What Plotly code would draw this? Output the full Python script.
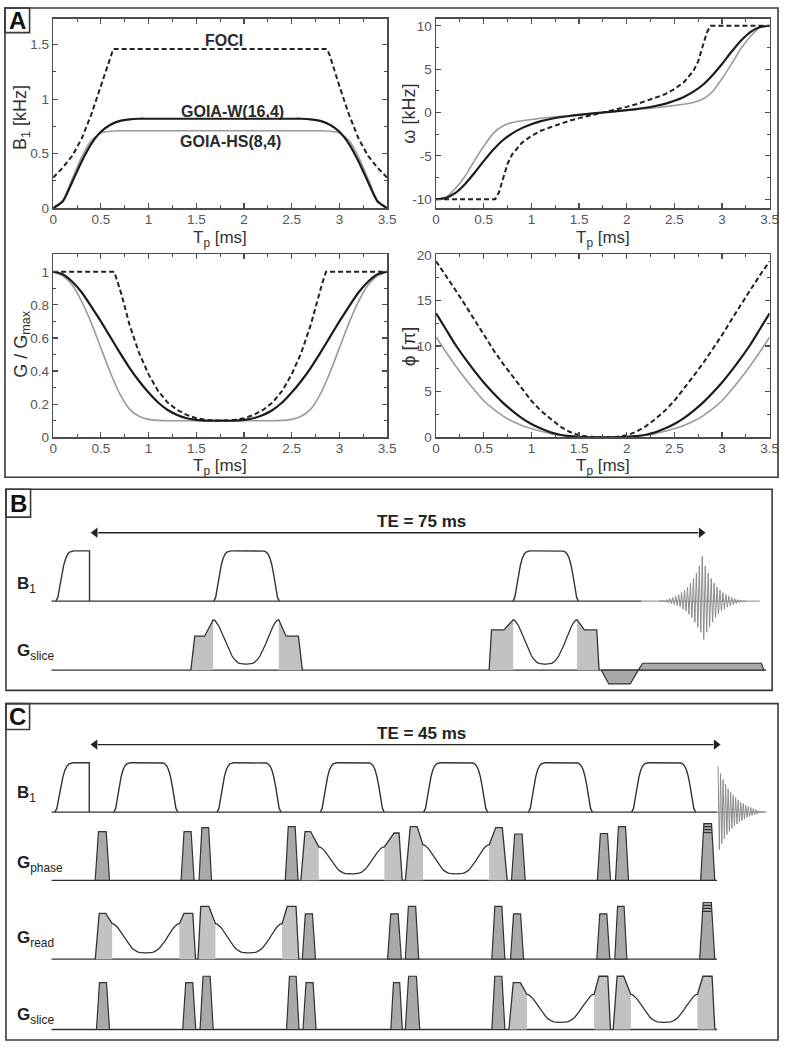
import plotly.graph_objects as go

FONT = "Liberation Sans, Arial, Helvetica, sans-serif"
W, H = 789, 1050

# ---------------- Panel A data ----------------
tp = [0.0, 0.1, 0.2, 0.3, 0.4, 0.5, 0.6, 0.7, 0.8, 0.9, 1.0, 1.1, 1.2, 1.3, 1.4, 1.5, 1.6, 1.7,
      1.8, 1.9, 2.0, 2.1, 2.2, 2.3, 2.4, 2.5, 2.6, 2.7, 2.8, 2.9, 3.0, 3.1, 3.2, 3.3, 3.4, 3.5]

# B1 [kHz]
b1_goia_w = [0.00, 0.06, 0.24, 0.43, 0.59, 0.70, 0.765, 0.80, 0.815, 0.82,
             0.82, 0.82, 0.82, 0.82, 0.82, 0.82, 0.82, 0.82, 0.82, 0.82, 0.82, 0.82, 0.82, 0.82, 0.82, 0.82,
             0.82, 0.815, 0.80, 0.765, 0.70, 0.59, 0.43, 0.24, 0.06, 0.00]
b1_goia_hs = [0.00, 0.07, 0.27, 0.47, 0.62, 0.69, 0.705,
              0.71, 0.71, 0.71, 0.71, 0.71, 0.71, 0.71, 0.71, 0.71, 0.71, 0.71,
              0.71, 0.71, 0.71, 0.71, 0.71, 0.71, 0.71, 0.71, 0.71, 0.71, 0.71,
              0.705, 0.69, 0.62, 0.47, 0.27, 0.07, 0.00]
t_foci_b1 = [0.0, 0.1, 0.2, 0.3, 0.4, 0.5, 0.6, 0.63, 2.87, 2.9, 3.0, 3.1, 3.2, 3.3, 3.4, 3.5]
b1_foci = [0.28, 0.37, 0.48, 0.64, 0.86, 1.12, 1.40, 1.46, 1.46, 1.40, 1.12, 0.86, 0.64, 0.48, 0.37, 0.28]

# omega [kHz]
w_goia_w = [-10, -9.85, -9.3, -8.3, -7.0, -5.6, -4.3, -3.2, -2.4, -1.8, -1.35, -1.0, -0.75, -0.55, -0.4, -0.27, -0.15, -0.05,
            0.05, 0.15, 0.27, 0.4, 0.55, 0.75, 1.0, 1.35, 1.8, 2.4, 3.2, 4.3, 5.6, 7.0, 8.3, 9.3, 9.85, 10]
w_goia_hs = [-10, -9.8, -8.8, -7.4, -5.6, -3.9, -2.4, -1.55, -1.15, -0.95, -0.8, -0.67, -0.55, -0.45, -0.35, -0.25, -0.15, -0.05,
             0.05, 0.15, 0.25, 0.35, 0.45, 0.55, 0.67, 0.8, 0.95, 1.15, 1.55, 2.4, 3.9, 5.6, 7.4, 8.8, 9.8, 10]
t_foci_w = [0, 0.62, 0.66, 0.7, 0.75, 0.8, 0.9, 1.0, 1.1, 1.2, 1.3, 1.4, 1.5, 1.6, 1.75,
            1.9, 2.0, 2.1, 2.2, 2.3, 2.4, 2.5, 2.6, 2.7, 2.75, 2.8, 2.84, 2.88, 3.5]
w_foci = [-10, -10, -9.2, -7.6, -5.9, -4.8, -3.5, -2.7, -2.1, -1.7, -1.3, -0.95, -0.65, -0.4, 0,
          0.4, 0.65, 0.95, 1.3, 1.7, 2.1, 2.7, 3.5, 4.8, 5.9, 7.6, 9.2, 10, 10]

# G / Gmax
g_goia_w = [1.0, 0.985, 0.94, 0.875, 0.79, 0.70, 0.605, 0.51, 0.42, 0.34, 0.27, 0.21, 0.165, 0.135, 0.115, 0.105, 0.10, 0.10,
            0.10, 0.10, 0.105, 0.115, 0.135, 0.165, 0.21, 0.27, 0.34, 0.42, 0.51, 0.605, 0.70, 0.79, 0.875, 0.94, 0.985, 1.0]
g_goia_hs = [1.0, 0.975, 0.92, 0.82, 0.69, 0.54, 0.39, 0.26, 0.17, 0.127, 0.108, 0.102, 0.10, 0.10, 0.10, 0.10, 0.10, 0.10,
             0.10, 0.10, 0.10, 0.10, 0.10, 0.10, 0.102, 0.108, 0.127, 0.17, 0.26, 0.39, 0.54, 0.69, 0.82, 0.92, 0.975, 1.0]
t_foci_g = [0, 0.64, 0.68, 0.72, 0.8, 0.9, 1.0, 1.1, 1.2, 1.3, 1.4, 1.5, 1.6, 1.75,
            1.9, 2.0, 2.1, 2.2, 2.3, 2.4, 2.5, 2.6, 2.7, 2.78, 2.82, 2.86, 3.5]
g_foci = [1, 1, 0.93, 0.855, 0.68, 0.51, 0.38, 0.28, 0.21, 0.165, 0.135, 0.115, 0.105, 0.10,
          0.105, 0.115, 0.135, 0.165, 0.21, 0.28, 0.38, 0.51, 0.68, 0.855, 0.93, 1, 1]

# phi [pi]
phi_goia_w = [13.6, 11.9, 10.2, 8.7, 7.3, 6.0, 4.85, 3.8, 2.9, 2.1, 1.45, 0.95, 0.55, 0.28, 0.12, 0.04, 0.0, 0.0,
              0.0, 0.0, 0.04, 0.12, 0.28, 0.55, 0.95, 1.45, 2.1, 2.9, 3.8, 4.85, 6.0, 7.3, 8.7, 10.2, 11.9, 13.6]
phi_goia_hs = [11.0, 9.4, 7.9, 6.5, 5.2, 4.0, 3.1, 2.35, 1.75, 1.3, 0.95, 0.65, 0.4, 0.22, 0.1, 0.03, 0.0, 0.0,
               0.0, 0.0, 0.03, 0.1, 0.22, 0.4, 0.65, 0.95, 1.3, 1.75, 2.35, 3.1, 4.0, 5.2, 6.5, 7.9, 9.4, 11.0]
phi_foci = [19.3, 17.8, 16.2, 14.6, 12.9, 11.2, 9.6, 8.1, 6.7, 5.3, 4.0, 2.9, 2.0, 1.2, 0.6, 0.22, 0.05, 0.0,
            0.0, 0.05, 0.22, 0.6, 1.2, 2.0, 2.9, 4.0, 5.3, 6.7, 8.1, 9.6, 11.2, 12.9, 14.6, 16.2, 17.8, 19.3]

x_ticks = [0, 0.5, 1, 1.5, 2, 2.5, 3, 3.5]
w_tickvals = [-10, -5, 0, 5, 10]
w_ticktext = ["-10", "-5", "0", "5", "10"]

# ---------------- Panel B data (time in ms, amplitude in pulse heights) ----------------
b_te = 75
b_rows = [0.0, -1.373]                 # B1, G_slice baselines
b_exc = [-4.27, -0.16]                 # excitation start / end
b_ref_centers = [19.0, 55.5]
b_ref_dur = 8.0
b_goia_centers = [18.93, 55.43]
b_goia_durs = [8.0, 7.8]
b_goia_top = 1.0
b_goia_low = 0.12
b_crush_left = [(0.48, 1.20, 1.05, 0.675), (0.30, 1.51, 1.13, 0.80)]   # ramp, flat, slope, level
b_crush_right = [(0.89, 1.51, 0.48, 0.675), (0.88, 1.52, 0.28, 0.80)]  # slope, flat, ramp, level
b_neg_t = [62.28, 63.2, 65.81, 66.8]
b_neg_a = [0, -0.275, -0.275, 0]
b_acq_t = [66.8, 67.32, 81.8, 82.13]
b_acq_a = [0, 0.137, 0.137, 0]
b_line_ends = [-4.8, 67.2, 81.6, 82.4]   # baseline start, B1 dark end, B1 grey end, G end
b_echo_center = 74.6
b_echo_step = 0.18
b_echo = [0.01, -0.01, 0.02, -0.02, 0.03, -0.03, 0.05, -0.05, 0.07, -0.07, 0.10, -0.09, 0.13, -0.12,
          0.17, -0.16, 0.22, -0.20, 0.28, -0.26, 0.36, -0.33, 0.45, -0.42, 0.56, -0.52, 0.70, -0.62,
          0.89, -0.76,
          0.70, -0.62, 0.56, -0.52, 0.45, -0.42, 0.36, -0.33, 0.28, -0.26, 0.22, -0.20, 0.17, -0.16,
          0.13, -0.12, 0.10, -0.09, 0.07, -0.07, 0.05, -0.05, 0.03, -0.03, 0.02, -0.02, 0.01, -0.01]

# ---------------- Panel C data ----------------
c_te = 45
c_rows = [0.0, -1.386, -2.986, -4.412]   # B1, G_phase, G_read, G_slice
c_exc = [-2.573, -0.113]
c_ref_centers = [3.93, 11.31, 18.69, 26.08, 33.57, 40.95]
c_ref_dur = 4.57
c_blocks_phase = [(0.309, 1.027, 0.99), (6.448, 0.935, 0.99), (7.734, 0.893, 1.07), (13.901, 0.914, 1.09),
                  (30.073, 0.984, 0.94), (36.211, 0.942, 0.95), (37.505, 0.935, 1.09)]
c_blocks_read = [(15.117, 0.942, 0.92), (21.213, 0.984, 0.92), (22.479, 0.963, 1.07), (28.666, 0.935, 1.07),
                 (30.002, 0.935, 0.92), (36.169, 0.935, 0.92), (37.456, 0.865, 1.07)]
c_blocks_slice = [(0.401, 0.935, 0.95), (6.567, 0.935, 0.95), (7.805, 0.942, 1.08), (13.992, 0.893, 1.08),
                  (15.167, 0.935, 0.95), (21.446, 0.823, 0.95), (22.479, 1.034, 1.08), (28.666, 0.935, 1.08)]
c_pe_blocks = [(1, 43.594, 1.013, 1.15), (2, 43.524, 1.083, 1.15)]
c_pe_stripes = [1.09, 1.03, 0.97]
# row, centre, duration, top, low, left (ramp, flat, slope, level), right (slope, flat, ramp, level)
c_goia = [
    (1, 18.637, 4.69, 0.68, 0.13, (0.30, 0.40, 0.58, 0.99), (0.70, 0.35, 0.23, 0.96)),
    (1, 26.111, 4.73, 0.72, 0.13, (0.35, 0.49, 0.42, 1.09), (0.47, 0.47, 0.35, 1.07)),
    (2, 3.927, 4.80, 0.72, 0.13, (0.28, 0.46, 0.47, 0.93), (0.33, 0.63, 0.20, 0.93)),
    (2, 11.289, 4.76, 0.72, 0.13, (0.20, 0.58, 0.47, 1.07), (0.37, 0.63, 0.20, 1.07)),
    (3, 33.578, 4.80, 0.71, 0.146, (0.31, 0.51, 0.47, 0.95), (0.35, 0.63, 0.19, 1.08)),
    (3, 40.982, 4.76, 0.71, 0.146, (0.28, 0.47, 0.51, 1.08), (0.40, 0.65, 0.20, 1.08)),
]
c_line_ends = [-2.81, 44.77, 48.3]
c_fid_start = 44.84
c_fid_step = 0.09
c_fid = [0.93, -0.76, 0.78, -0.64, 0.66, -0.54, 0.56, -0.46, 0.47, -0.39, 0.40, -0.33, 0.34, -0.28,
         0.29, -0.24, 0.24, -0.20, 0.20, -0.17, 0.17, -0.14, 0.14, -0.11, 0.11, -0.09, 0.09, -0.07,
         0.07, -0.05, 0.05, -0.04, 0.03, -0.02, 0.02, -0.01, 0.01, 0.0]

# ---------------- helpers ----------------
fig = go.Figure()
DARK = "#333333"
GREY_SIG = "#8c8c8c"


def dom_x(a, b):
    return [a / W, b / W]


def dom_y(top, bottom):
    return [1 - bottom / H, 1 - top / H]


def add(x, y, xa, ya, **kw):
    kw.setdefault("mode", "lines")
    fig.add_trace(go.Scatter(x=x, y=y, xaxis=xa, yaxis=ya,
                             hoverinfo="skip", showlegend=False, **kw))


def baseline(xa, ya, x0, x1, y, color=DARK):
    add([x0, x1], [y, y], xa, ya, line=dict(color=color, width=1.3))


B1MAX = max(b1_goia_w)


def rf_pulse(xa, ya, c, d, base):
    xs = [c - d / 2 + t / 3.5 * d for t in tp]
    ys = [base + v / B1MAX for v in b1_goia_w]
    add(xs, ys, xa, ya, line=dict(color=DARK, width=1.4))


def exc_pulse(xa, ya, s, e, base):
    idx = [i for i, t in enumerate(tp) if t <= 1.7 + 1e-9]
    xs = [s + tp[i] / 1.7 * (e - s) for i in idx] + [e]
    ys = [base + b1_goia_w[i] / B1MAX for i in idx] + [base]
    add(xs, ys, xa, ya, line=dict(color=DARK, width=1.4))


def trap(xa, ya, s, w, h, base, fill="#a9a9a9"):
    xs = [s, s + 0.23 * w, s + 0.77 * w, s + w, s]
    ys = [base, base + h, base + h, base, base]
    add(xs, ys, xa, ya, fill="toself", fillcolor=fill, line=dict(color=DARK, width=1.2))


def goia_lobe(xa, ya, c, d, top, low, left, right, base):
    r, f, s, L = left
    s2, f2, r2, L2 = right
    xb, xe = c - d / 2, c + d / 2
    x0 = xb - s - f - r
    xend = xe + s2 + f2 + r2
    gf = "#c2c2c2"
    add([x0, x0 + r, x0 + r + f, xb, xb, x0],
        [base, base + L, base + L, base + top, base, base], xa, ya,
        fill="toself", fillcolor=gf, line=dict(width=0, color=gf))
    add([xe, xe, xe + s2, xe + s2 + f2, xend, xe],
        [base, base + top, base + L2, base + L2, base, base], xa, ya,
        fill="toself", fillcolor=gf, line=dict(width=0, color=gf))
    wx = [xb + t / 3.5 * d for t in tp]
    wy = [base + low + (top - low) * (g - 0.1) / 0.9 for g in g_goia_w]
    add([x0, x0 + r, x0 + r + f] + wx + [xe + s2, xe + s2 + f2, xend],
        [base, base + L, base + L] + wy + [base + L2, base + L2, base], xa, ya,
        line=dict(color=DARK, width=1.3))


def te_arrow(xa, ya, te, y, head):
    add([head, te - head], [y, y], xa, ya, line=dict(color="#222222", width=1.4))
    add([head * 0.6, te - head * 0.6], [y, y], xa, ya, mode="markers",
        marker=dict(symbol=["triangle-left", "triangle-right"], size=9, color="#222222",
                    line=dict(width=0)))


# ---------------- Panel A traces ----------------
panels = [
    ("x", "y", t_foci_b1, b1_foci, b1_goia_w, b1_goia_hs),
    ("x2", "y2", t_foci_w, w_foci, w_goia_w, w_goia_hs),
    ("x3", "y3", t_foci_g, g_foci, g_goia_w, g_goia_hs),
    ("x4", "y4", tp, phi_foci, phi_goia_w, phi_goia_hs),
]
for xa, ya, tf, vf, vw, vh in panels:
    add(tp, vh, xa, ya, line=dict(color="#9a9a9a", width=1.6, shape="spline", smoothing=0.6))
    add(tf, vf, xa, ya, line=dict(color="#222222", width=2, dash="5px,3px"))
    add(tp, vw, xa, ya, line=dict(color="#1c1c1c", width=2.2, shape="spline", smoothing=0.6))

# ---------------- Panel B traces ----------------
XB, YB = "x5", "y5"
baseline(XB, YB, b_line_ends[0], b_line_ends[1], b_rows[0])
baseline(XB, YB, b_line_ends[1], b_line_ends[2], b_rows[0], color="#9a9a9a")
baseline(XB, YB, b_line_ends[0], b_line_ends[3], b_rows[1])
exc_pulse(XB, YB, b_exc[0], b_exc[1], b_rows[0])
for c in b_ref_centers:
    rf_pulse(XB, YB, c, b_ref_dur, b_rows[0])
for c, d, lft, rgt in zip(b_goia_centers, b_goia_durs, b_crush_left, b_crush_right):
    goia_lobe(XB, YB, c, d, b_goia_top, b_goia_low, lft, rgt, b_rows[1])
add(b_neg_t + [b_neg_t[0]], [b_rows[1] + a for a in b_neg_a] + [b_rows[1]], XB, YB,
    fill="toself", fillcolor="#a9a9a9", line=dict(color=DARK, width=1.2))
add(b_acq_t + [b_acq_t[0]], [b_rows[1] + a for a in b_acq_a] + [b_rows[1]], XB, YB,
    fill="toself", fillcolor="#a9a9a9", line=dict(color=DARK, width=1.2))
n_half = len(b_echo) // 2
ex = [b_echo_center + (i - n_half + 1) * b_echo_step for i in range(len(b_echo))]
add([ex[0] - b_echo_step] + ex + [ex[-1] + b_echo_step], [0] + b_echo + [0], XB, YB,
    line=dict(color=GREY_SIG, width=1))
te_arrow(XB, YB, b_te, 1.361, 0.9)

# ---------------- Panel C traces ----------------
XC, YC = "x6", "y6"
baseline(XC, YC, c_line_ends[0], c_line_ends[1], c_rows[0])
baseline(XC, YC, c_line_ends[1], c_line_ends[2], c_rows[0], color="#9a9a9a")
for rb in c_rows[1:]:
    baseline(XC, YC, c_line_ends[0], c_line_ends[1], rb)
exc_pulse(XC, YC, c_exc[0], c_exc[1], c_rows[0])
for c in c_ref_centers:
    rf_pulse(XC, YC, c, c_ref_dur, c_rows[0])
for row, blocks in ((1, c_blocks_phase), (2, c_blocks_read), (3, c_blocks_slice)):
    for s, w, h in blocks:
        trap(XC, YC, s, w, h, c_rows[row])
for row, s, w, h in c_pe_blocks:
    base = c_rows[row]
    trap(XC, YC, s, w, h, base)
    for lv in c_pe_stripes:
        k = 0.23 * w * lv / h
        add([s + k, s + w - k], [base + lv, base + lv], XC, YC, line=dict(color=DARK, width=1.2))
for row, c, d, top, low, lft, rgt in c_goia:
    goia_lobe(XC, YC, c, d, top, low, lft, rgt, c_rows[row])
fx = [c_fid_start + i * c_fid_step for i in range(len(c_fid))]
add(fx, c_fid, XC, YC, line=dict(color=GREY_SIG, width=1))
te_arrow(XC, YC, c_te, 1.368, 0.5)

# ---------------- Layout ----------------
AX = dict(showline=True, linecolor="#4d4d4d", linewidth=1.5, mirror="ticks",
          ticks="inside", ticklen=5, tickwidth=1.2, tickcolor="#4d4d4d",
          showgrid=False, zeroline=False, fixedrange=True,
          tickfont=dict(family=FONT, size=13.5, color="#555555"))
AXX = dict(AX, ticklabelstandoff=-2)
MINOR = dict(ticks="inside", ticklen=3, tickwidth=1, tickcolor="#4d4d4d", showgrid=False)

LX = (50, 389.5)
RX = (439.3, 778.5)
TOPY = (12, 204)
BOTY = (251, 436.5)

layout = dict(
    width=W, height=H, margin=dict(l=0, r=0, t=0, b=0),
    paper_bgcolor="white", plot_bgcolor="white", showlegend=False, hovermode=False,
    font=dict(family=FONT, color="#333333"),
    xaxis=dict(AXX, domain=dom_x(*LX), range=[0, 3.5], tickvals=x_ticks, anchor="y",
               minor=dict(MINOR, dtick=0.25, tick0=0)),
    yaxis=dict(AX, domain=dom_y(*TOPY), range=[0, 1.737], dtick=0.5, anchor="x",
               minor=dict(MINOR, dtick=0.25, tick0=0)),
    xaxis2=dict(AXX, domain=dom_x(*RX), range=[0, 3.5], tickvals=x_ticks, anchor="y2",
                minor=dict(MINOR, dtick=0.25, tick0=0)),
    yaxis2=dict(AX, domain=dom_y(*TOPY), range=[-11.02, 10.8], tickvals=w_tickvals,
                ticktext=w_ticktext, anchor="x2", minor=dict(MINOR, dtick=2.5, tick0=0)),
    xaxis3=dict(AXX, domain=dom_x(*LX), range=[0, 3.5], tickvals=x_ticks, anchor="y3",
                minor=dict(MINOR, dtick=0.25, tick0=0)),
    yaxis3=dict(AX, domain=dom_y(*BOTY), range=[0, 1.105], dtick=0.2, anchor="x3",
                minor=dict(MINOR, dtick=0.1, tick0=0)),
    xaxis4=dict(AXX, domain=dom_x(*RX), range=[0, 3.5], tickvals=x_ticks, anchor="y4",
                minor=dict(MINOR, dtick=0.25, tick0=0)),
    yaxis4=dict(AX, domain=dom_y(*BOTY), range=[0, 20.05], dtick=5, anchor="x4",
                minor=dict(MINOR, dtick=2.5, tick0=0)),
    xaxis5=dict(domain=[0, 1], range=[-88.3 / 8.3333, (W - 88.3) / 8.3333], visible=False,
                fixedrange=True, anchor="y5"),
    yaxis5=dict(domain=dom_y(489.3, 693.3), range=[-1.776, 2.224], visible=False,
                fixedrange=True, anchor="x5"),
    xaxis6=dict(domain=[0, 1], range=[-88.3 / 14.2222, (W - 88.3) / 14.2222], visible=False,
                fixedrange=True, anchor="y6"),
    yaxis6=dict(domain=dom_y(706.7, 1048), range=[-4.626, 2.2], visible=False,
                fixedrange=True, anchor="x6"),
)

# panel frames and label boxes
shapes = []


def rect(x0, y0, x1, y1, width=1.6):
    shapes.append(dict(type="rect", xref="paper", yref="paper",
                       x0=x0 / W, x1=x1 / W, y0=1 - y1 / H, y1=1 - y0 / H,
                       line=dict(color="#3a3a3a", width=width), fillcolor="rgba(0,0,0,0)", layer="above"))


rect(1, 1, 787, 477)
rect(1, 1, 26, 26)
rect(2, 489.3, 781, 693.3)
rect(2, 489.3, 27, 517.5)
rect(2, 706.7, 787, 1048)
rect(2, 706.7, 26, 733)
layout["shapes"] = shapes

ann = []


def text(t, xpx, ypx, size, xanchor="center", yanchor="middle", angle=0, color="#222222"):
    ann.append(dict(text=t, x=xpx / W, y=1 - ypx / H, xref="paper", yref="paper",
                    xanchor=xanchor, yanchor=yanchor, textangle=angle, showarrow=False,
                    font=dict(family=FONT, size=size, color=color)))


# panel letters
text("<b>A</b>", 13.5, 14, 24, color="#111111")
text("<b>B</b>", 14.5, 503.5, 24, color="#111111")
text("<b>C</b>", 14, 720, 24, color="#111111")

# axis titles panel A
for cx in (sum(LX) / 2, sum(RX) / 2):
    text("T<sub>p</sub> [ms]", cx, 235, 17, color="#333333")
    text("T<sub>p</sub> [ms]", cx, 467, 17, color="#333333")
text("B<sub>1</sub> [kHz]", 18, 112, 18, angle=-90, color="#333333")
text("ω [kHz]", 412, 108, 18, angle=-90, color="#333333")
text("G / G<sub>max</sub>", 18, 342, 18, angle=-90, color="#333333")
text("ϕ [π]", 411, 344, 19, angle=-90, color="#333333")

# curve labels (data coordinates)
for t, x, y in (("FOCI", 1.79, 1.54), ("GOIA-W(16,4)", 1.88, 0.89), ("GOIA-HS(8,4)", 1.86, 0.61)):
    ann.append(dict(text="<b>%s</b>" % t, x=x, y=y, xref="x", yref="y", showarrow=False,
                    font=dict(family=FONT, size=16, color="#2a2a2a")))

# row labels
text("<b>B</b><sub>1</sub>", 11, 586, 17, xanchor="left")
text("<b>G</b><sub>slice</sub>", 11, 654, 17, xanchor="left")
text("<b>B</b><sub>1</sub>", 11, 798, 17, xanchor="left")
text("<b>G</b><sub>phase</sub>", 11, 869, 17, xanchor="left")
text("<b>G</b><sub>read</sub>", 11, 946, 17, xanchor="left")
text("<b>G</b><sub>slice</sub>", 11, 1024, 17, xanchor="left")

# TE labels
for xa, ya, te, y_text, x_text in (("x5", "y5", b_te, 1.588, 40.3), ("x6", "y6", c_te, 1.60, 23.62)):
    ann.append(dict(x=x_text, y=y_text, xref=xa, yref=ya, showarrow=False,
                    text="<b>TE = %d ms</b>" % te,
                    font=dict(family=FONT, size=17, color="#222222")))

layout["annotations"] = ann
fig.update_layout(**layout)
fig.write_html(
    "out.html", config={"displayModeBar": False, "staticPlot": True},
    post_script=("document.documentElement.style.margin='0px';"
                 "document.body.style.margin='0px';document.body.style.padding='0px';"
                 "document.body.style.overflow='hidden';"
                 "var gd=document.getElementById('{plot_id}');"
                 "gd.style.position='fixed';gd.style.left='0px';gd.style.top='0px';"))
